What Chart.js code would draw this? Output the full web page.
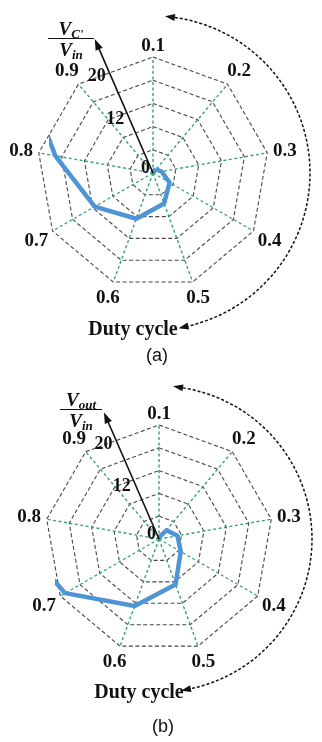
<!DOCTYPE html>
<html>
<head>
<meta charset="utf-8">
<script src="https://cdn.jsdelivr.net/npm/chart.js@4.4.0/dist/chart.umd.min.js"></script>
<style>
  html, body { margin: 0; padding: 0; background: #fff; }
  body { width: 322px; height: 742px; position: relative; overflow: hidden; font-family: 'Liberation Serif', 'Times New Roman', serif; color: #111; }
  canvas { position: absolute; left: 0; }
  .frac { position: absolute; text-align: center; font-style: italic; font-weight: bold; font-size: 19px; line-height: 19px; }
  .frac .num { height: 19px; border-bottom: 1.6px solid #111; }
  .frac .den { margin-top: 1px; }
  .frac sub { font-size: 13px; vertical-align: baseline; position: relative; top: 3px; }
  .xtitle { position: absolute; width: 110px; text-align: center; font-weight: bold; font-size: 20px; line-height: 20px; }
  .cap { position: absolute; width: 40px; text-align: center; font-family: 'Liberation Sans', Arial, sans-serif; font-size: 18px; line-height: 18px; }
</style>
</head>
<body>
<canvas id="chartA" width="322" height="371" style="top:0"></canvas>
<canvas id="chartB" width="322" height="371" style="top:371px"></canvas>

<div class="frac" style="left:48px; top:19px; width:46px">
  <div class="num">V<sub>C'</sub></div>
  <div class="den">V<sub>in</sub></div>
</div>
<div class="frac" style="left:60px; top:390px; width:42px">
  <div class="num">V<sub>out</sub></div>
  <div class="den">V<sub>in</sub></div>
</div>

<div class="xtitle" style="left:78px; top:318px">Duty cycle</div>
<div class="xtitle" style="left:84px; top:681px">Duty cycle</div>
<div class="cap" style="left:137px; top:346px">(a)</div>
<div class="cap" style="left:143px; top:717px">(b)</div>

<script>
// duty cycle D on the spokes
var dutyCycle = ['0.1', '0.2', '0.3', '0.4', '0.5', '0.6', '0.7', '0.8', '0.9'];
// (a) V_C'/V_in, last value runs off the web and is cut
var vcRatio = [0.3, 0.8, 1.5, 3.3, 5.6, 8.4, 11.6, 17.1, 45];
// (b) V_out/V_in
var voutRatio = [0.3, 2.0, 3.3, 4.4, 8.5, 12.5, 19.0, 30, null];
// values written along the arrow
var ratioTicks = [0, 12, 20];
var ratioMax = 20;
var ratioStep = 4;

var serif = "'Liberation Serif', 'Times New Roman', serif";
Chart.defaults.font.family = serif;

function head(ctx, x, y, dx, dy) {
  ctx.beginPath();
  ctx.moveTo(x + dx * 10, y + dy * 10);
  ctx.lineTo(x - dy * 3.5, y + dx * 3.5);
  ctx.lineTo(x + dy * 3.5, y - dx * 3.5);
  ctx.closePath();
  ctx.fill();
}

// labels, arrow and dotted arc, all placed from the radial scale
var decor = {
  id: 'decor',
  afterDraw: function (chart, args, o) {
    var s = chart.scales.r, ctx = chart.ctx;
    var cx = s.xCenter, cy = s.yCenter, R = s.drawingArea;
    ctx.save();
    ctx.fillStyle = '#111';
    ctx.strokeStyle = '#111';

    // duty cycle labels
    ctx.font = 'bold 19px ' + serif;
    ctx.textAlign = 'center';
    ctx.textBaseline = 'middle';
    dutyCycle.forEach(function (lab, i) {
      var a = s.getIndexAngle(i);
      var hw = ctx.measureText(lab).width / 2;
      var d = R + 5 + hw * Math.abs(Math.sin(a)) + 7 * Math.abs(Math.cos(a));
      var p = s.getPointPosition(i, d);
      ctx.fillText(lab, p.x, p.y + 1);
    });

    // ratio axis arrow
    var t = o.arrowDeg * Math.PI / 180;
    var ux = Math.sin(t), uy = -Math.cos(t);
    var px = -Math.cos(t), py = -Math.sin(t);
    var L = R + o.arrowExtra;
    ctx.lineWidth = 1.6;
    ctx.beginPath();
    ctx.moveTo(cx, cy);
    ctx.lineTo(cx + ux * (L - 9), cy + uy * (L - 9));
    ctx.stroke();
    head(ctx, cx + ux * (L - 11), cy + uy * (L - 11), ux * 1.1, uy * 1.1);

    // tick values beside the arrow
    ctx.font = 'bold 18px ' + serif;
    ratioTicks.forEach(function (v) {
      var d = Math.max(s.getDistanceFromCenterForValue(v) - 5, 7);
      var side = v === 0 ? 5 : 13;
      ctx.fillText(String(v), cx + ux * d + px * side, cy + uy * d + py * side);
    });

    // dotted arc with heads at both ends
    var r = o.arcR, a0 = o.arcFrom * Math.PI / 180, a1 = o.arcTo * Math.PI / 180;
    ctx.lineWidth = 1.5;
    ctx.setLineDash([3, 2]);
    ctx.beginPath();
    ctx.arc(cx, cy, r, a0, a1);
    ctx.stroke();
    ctx.setLineDash([]);
    head(ctx, cx + r * Math.cos(a0), cy + r * Math.sin(a0), Math.sin(a0), -Math.cos(a0));
    head(ctx, cx + r * Math.cos(a1), cy + r * Math.sin(a1), -Math.sin(a1), Math.cos(a1));
    ctx.restore();
  }
};

// radar closes its path, so a series that fills every spoke is split in two
// open pieces: 0.1 -> 0.2 and 0.2 -> 0.9
function openPieces(values) {
  if (values.indexOf(null) >= 0) return [values];
  var first = values.map(function (v, i) { return i < 2 ? v : null; });
  var rest = values.map(function (v, i) { return i === 0 ? null : v; });
  return [first, rest];
}

function radar(id, values, pad, clipLeft, deco) {
  var sets = openPieces(values).map(function (d) {
    return {
      data: d,
      borderColor: '#4f94d4',
      borderWidth: 4.5,
      borderJoinStyle: 'round',
      pointRadius: 0,
      pointHoverRadius: 0,
      fill: false,
      tension: 0,
      spanGaps: false,
      clip: { left: clipLeft, top: false, right: false, bottom: false }
    };
  });
  return new Chart(document.getElementById(id), {
    type: 'radar',
    data: { labels: dutyCycle, datasets: sets },
    options: {
      responsive: false,
      animation: false,
      devicePixelRatio: 1,
      layout: { padding: pad },
      plugins: { legend: { display: false }, tooltip: { enabled: false }, decor: deco },
      scales: {
        r: {
          min: 0,
          max: ratioMax,
          ticks: { display: false, stepSize: ratioStep },
          pointLabels: { display: false },
          grid: { color: '#474747', lineWidth: 1.1 },
          border: { dash: [4, 2.5] },
          angleLines: { color: '#36a07c', lineWidth: 1.4, borderDash: [3, 2.5] }
        }
      }
    },
    plugins: [decor]
  });
}

radar('chartA', vcRatio, { left: 37, right: 53, top: 57, bottom: 82 }, -12,
  { arrowDeg: -23.5, arrowExtra: 30, arcR: 157, arcFrom: -82, arcTo: 77 });
radar('chartB', voutRatio, { left: 45, right: 49, top: 54, bottom: 89 }, -10,
  { arrowDeg: -23.5, arrowExtra: 24, arcR: 153, arcFrom: -81, arcTo: 78 });
</script>
</body>
</html>
